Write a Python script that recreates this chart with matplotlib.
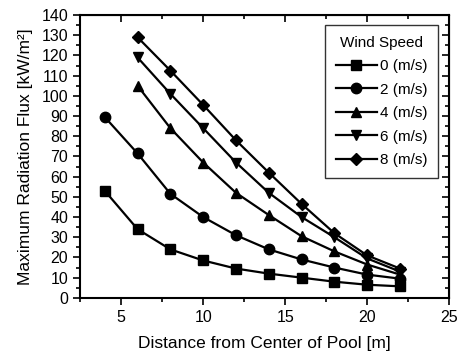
import matplotlib
matplotlib.use('Agg')
import matplotlib.pyplot as plt
from matplotlib.ticker import MultipleLocator

plt.rcParams['font.family'] = ['Liberation Sans', 'DejaVu Sans']

# distance from pool center [m]
dist_a = [4, 6, 8, 10, 12, 14, 16, 18, 20, 22]
dist_b = [6, 8, 10, 12, 14, 16, 18, 20, 22]

flux_0 = [53, 34, 24, 18.5, 14.5, 12, 10, 8, 6.5, 5.7]
flux_2 = [89.5, 71.5, 51.5, 40, 31, 24, 19, 15, 11.5, 9.5]
flux_4 = [105, 84, 67, 52, 41, 30.5, 23, 16.5, 11.5]
flux_6 = [119, 101, 84, 67, 52, 40, 30, 19.5, 13]
flux_8 = [129, 112.5, 95.5, 78, 62, 46.5, 32, 21, 14.5]

series = [
    (dist_a, flux_0, "s", "0 (m/s)"),
    (dist_a, flux_2, "o", "2 (m/s)"),
    (dist_b, flux_4, "^", "4 (m/s)"),
    (dist_b, flux_6, "v", "6 (m/s)"),
    (dist_b, flux_8, "D", "8 (m/s)"),
]

fig = plt.figure(figsize=(4.66, 3.58), dpi=100)
ax = fig.add_axes([0.172, 0.168, 0.792, 0.79])

for x, y, m, lab in series:
    ms = 6 if m == "D" else 7.5
    ax.plot(x, y, color="black", lw=1.6, marker=m, ms=ms, label=lab)

ax.set_xlim(2.5, 25)
ax.set_ylim(0, 140)
ax.xaxis.set_major_locator(MultipleLocator(5))
ax.xaxis.set_minor_locator(MultipleLocator(2.5))
ax.yaxis.set_major_locator(MultipleLocator(10))
ax.yaxis.set_minor_locator(MultipleLocator(5))
ax.tick_params(which="both", direction="out", labelsize=11.5, width=1.2)
ax.tick_params(which="major", length=5)
ax.tick_params(which="minor", length=3)
for s in ax.spines.values():
    s.set_linewidth(1.5)

# mirrored inward ticks on top / right
axt = ax.secondary_xaxis("top")
axt.xaxis.set_major_locator(MultipleLocator(5))
axt.xaxis.set_minor_locator(MultipleLocator(2.5))
axt.tick_params(which="both", direction="in", labeltop=False, width=1.2)
axt.tick_params(which="major", length=5)
axt.tick_params(which="minor", length=3)
axr = ax.secondary_yaxis("right")
axr.yaxis.set_major_locator(MultipleLocator(10))
axr.yaxis.set_minor_locator(MultipleLocator(5))
axr.tick_params(which="both", direction="in", labelright=False, width=1.2)
axr.tick_params(which="major", length=5)
axr.tick_params(which="minor", length=3)

ax.set_xlabel("Distance from Center of Pool [m]", fontsize=12.5, labelpad=8)
ax.set_ylabel("Maximum Radiation Flux [kW/m²]", fontsize=12.5, labelpad=6)

leg = ax.legend(title="Wind Speed", loc="upper right", bbox_to_anchor=(0.97, 0.965),
                borderaxespad=0, fontsize=11, title_fontsize=11, frameon=True,
                fancybox=False, edgecolor="black", handlelength=2.7, borderpad=0.7,
                labelspacing=0.62, handletextpad=0.2)
leg.get_frame().set_linewidth(1.0)

fig.savefig("out.png", dpi=100)
